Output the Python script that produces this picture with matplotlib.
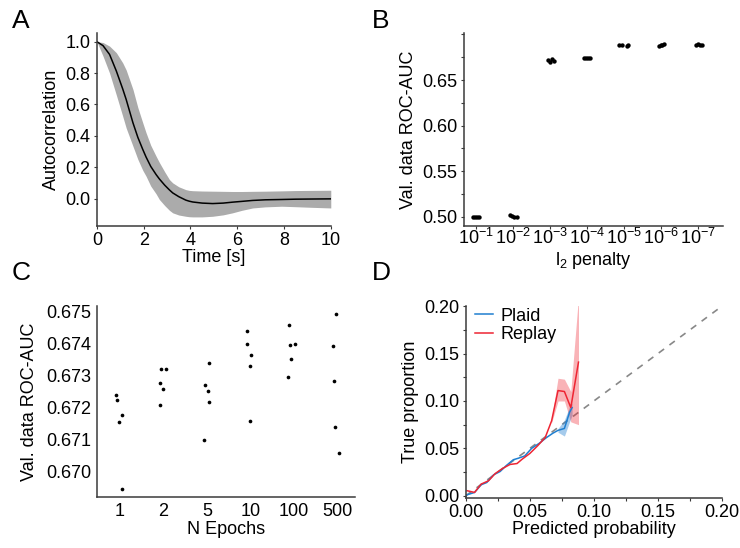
import matplotlib
matplotlib.use("Agg")
import matplotlib.pyplot as plt
import numpy as np
from matplotlib.ticker import MultipleLocator

plt.rcParams['font.family'] = ['Liberation Sans', 'DejaVu Sans']
plt.rcParams['font.size'] = 13
plt.rcParams['mathtext.fontset'] = 'custom'
plt.rcParams['mathtext.rm'] = 'Liberation Sans'
plt.rcParams['mathtext.it'] = 'Liberation Sans'
plt.rcParams['mathtext.default'] = 'regular'

# --- A: autocorrelation (mean and band) ---
t_acf = [0, 0.26, 0.54, 0.83, 1.1, 1.25, 1.54, 1.75, 1.96, 2.1, 2.3, 2.53, 2.67, 2.9, 3.1,
         3.24, 3.5, 3.8, 3.95, 4.1, 4.5, 4.95, 5.4, 5.8, 6.2, 6.66, 7.2, 7.9, 8.5, 9.2, 10]
acf_mean = [1.0, 0.975, 0.919, 0.813, 0.70, 0.632, 0.483, 0.39, 0.313, 0.265, 0.205, 0.153,
            0.125, 0.085, 0.055, 0.036, 0.012, -0.010, -0.017, -0.022, -0.029, -0.032, -0.029,
            -0.023, -0.018, -0.012, -0.008, -0.006, -0.004, -0.003, -0.002]
acf_upper = [1.0, 0.995, 0.972, 0.93, 0.866, 0.82, 0.696, 0.58, 0.483, 0.42, 0.34, 0.27,
             0.23, 0.17, 0.121, 0.10, 0.075, 0.057, 0.052, 0.050, 0.048, 0.047, 0.046,
             0.045, 0.045, 0.046, 0.047, 0.049, 0.051, 0.052, 0.053]
acf_lower = [1.0, 0.9085, 0.80, 0.66, 0.526, 0.45, 0.334, 0.25, 0.18, 0.143, 0.08, 0.03,
             -0.006, -0.045, -0.075, -0.091, -0.105, -0.113, -0.116, -0.117, -0.117, -0.113,
             -0.104, -0.091, -0.075, -0.06, -0.053, -0.049, -0.052, -0.056, -0.06]

# --- B: l2 penalty sweep ---
penalty_labels = ['$10^{-1}$', '$10^{-2}$', '$10^{-3}$', '$10^{-4}$', '$10^{-5}$', '$10^{-6}$', '$10^{-7}$']
penalty_auc = [
    [0.500, 0.500, 0.500, 0.500],
    [0.5025, 0.501, 0.500, 0.500],
    [0.672, 0.670, 0.673, 0.671],
    [0.6745, 0.674, 0.674, 0.674],
    [0.6885, 0.6885, 0.6875, 0.688],
    [0.6875, 0.688, 0.6885, 0.689],
    [0.6885, 0.689, 0.688, 0.688],
]
penalty_jitter = [
    [-0.08, -0.03, 0.02, 0.08],
    [-0.08, -0.02, 0.04, 0.10],
    [-0.05, 0.0, 0.05, 0.10],
    [-0.08, -0.02, 0.03, 0.08],
    [-0.12, -0.06, 0.08, 0.12],
    [-0.06, 0.0, 0.04, 0.08],
    [-0.06, 0.0, 0.06, 0.12],
]

# --- C: number of epochs ---
epoch_labels = ['1', '2', '5', '10', '100', '500']
epoch_auc = [
    [0.67238, 0.67223, 0.67154, 0.67175, 0.66945],
    [0.67321, 0.67321, 0.67277, 0.67257, 0.67207],
    [0.67271, 0.67250, 0.67216, 0.67338, 0.67097],
    [0.67438, 0.67398, 0.67363, 0.67329, 0.67156],
    [0.67457, 0.67396, 0.67399, 0.67351, 0.67294],
    [0.67490, 0.67390, 0.67281, 0.67139, 0.67059],
]
epoch_jitter = [
    [-0.10, -0.08, -0.02, 0.05, 0.05],
    [-0.05, 0.05, -0.09, 0.0, -0.09],
    [-0.05, 0.03, 0.05, 0.05, -0.06],
    [-0.09, -0.08, 0.02, 0.0, 0.0],
    [-0.12, -0.08, 0.02, -0.06, -0.14],
    [-0.04, -0.10, -0.08, -0.05, 0.03],
]

# --- D: calibration ---
plaid_x = [0.001, 0.0068, 0.012, 0.0164, 0.0216, 0.0268, 0.0314, 0.0371, 0.041, 0.046,
           0.0514, 0.0574, 0.063, 0.068, 0.072, 0.077, 0.081, 0.083]
plaid_y = [0.001, 0.0035, 0.0116, 0.014, 0.022, 0.0256, 0.0316, 0.038, 0.0396, 0.042,
           0.050, 0.0554, 0.0614, 0.066, 0.069, 0.071, 0.088, 0.093]
plaid_band_x = [0.072, 0.077, 0.081, 0.083]
plaid_lo = [0.067, 0.063, 0.078, 0.085]
plaid_hi = [0.071, 0.080, 0.094, 0.098]

replay_x = [0.001, 0.0068, 0.012, 0.0177, 0.023, 0.029, 0.0345, 0.040, 0.044, 0.050,
            0.056, 0.062, 0.067, 0.072, 0.077, 0.082, 0.088]
replay_y = [0.0053, 0.0035, 0.0123, 0.0158, 0.0235, 0.029, 0.033, 0.034, 0.0386, 0.0446,
            0.0526, 0.0614, 0.079, 0.111, 0.110, 0.093, 0.141]
replay_band_x = [0.067, 0.072, 0.077, 0.082, 0.088]
replay_lo = [0.077, 0.100, 0.100, 0.078, 0.075]
replay_hi = [0.081, 0.124, 0.123, 0.110, 0.210]

BLUE = '#1f7fd0'
RED = '#ee2533'
SPINE = '#3a3a3a'


def style(ax):
    for s in ['top', 'right']:
        ax.spines[s].set_visible(False)
    for s in ['left', 'bottom']:
        ax.spines[s].set_color(SPINE)
        ax.spines[s].set_linewidth(1.1)
    ax.tick_params(which='both', length=2.5, width=0.8, color=SPINE, pad=2, labelsize=13)


fig = plt.figure(figsize=(7.4, 5.48), dpi=100)

# Panel A
axA = fig.add_axes([0.131, 0.5876, 0.316, 0.352])
axA.fill_between(t_acf, acf_lower, acf_upper, color='#ababab', linewidth=0)
axA.plot(t_acf, acf_mean, color='black', linewidth=1.1)
axA.set_xlim(0, 10)
axA.set_ylim(-0.175, 1.055)
axA.set_xticks([0, 2, 4, 6, 8, 10])
axA.set_yticks([0.0, 0.2, 0.4, 0.6, 0.8, 1.0])
axA.set_xlabel('Time [s]', labelpad=0)
axA.set_ylabel('Autocorrelation', labelpad=4)
style(axA)

# Panel B
axB = fig.add_axes([0.627, 0.5876, 0.35, 0.352])
for i, vals in enumerate(penalty_auc):
    xs = [i + j for j in penalty_jitter[i]]
    axB.scatter(xs, vals, s=10, color='black', linewidths=0, zorder=3)
axB.set_xlim(-0.32, 6.68)
axB.set_ylim(0.490, 0.7015)
axB.set_xticks(range(len(penalty_labels)))
axB.set_xticklabels(penalty_labels)
axB.set_yticks([0.50, 0.55, 0.60, 0.65])
axB.yaxis.set_minor_locator(MultipleLocator(0.025))
axB.set_xlabel('l$_2$ penalty', labelpad=1)
axB.set_ylabel('Val. data ROC-AUC', labelpad=4)
style(axB)
axB.tick_params(axis='x', pad=-1)

# Panel C
axC = fig.add_axes([0.131, 0.093, 0.349, 0.349])
for i, vals in enumerate(epoch_auc):
    xs = [i + j for j in epoch_jitter[i]]
    axC.scatter(xs, vals, s=7, color='black', linewidths=0, zorder=3)
axC.set_xlim(-0.53, 5.41)
axC.set_ylim(0.6692, 0.67517)
axC.set_xticks(range(len(epoch_labels)))
axC.set_xticklabels(epoch_labels)
axC.set_yticks([0.670, 0.671, 0.672, 0.673, 0.674, 0.675])
axC.set_xlabel('N Epochs', labelpad=1)
axC.set_ylabel('Val. data ROC-AUC', labelpad=6)
style(axC)
axC.tick_params(which='both', length=0, pad=4)

# Panel D
axD = fig.add_axes([0.6295, 0.0912, 0.346, 0.350])
axD.plot([0, 0.2], [0, 0.2], linestyle=(0, (4, 4)), color='#888888', linewidth=1.2, zorder=1)
axD.fill_between(plaid_band_x, plaid_lo, plaid_hi, color=BLUE, alpha=0.4, linewidth=0)
axD.fill_between(replay_band_x, replay_lo, replay_hi, color=RED, alpha=0.35, linewidth=0)
axD.plot(plaid_x, plaid_y, color=BLUE, linewidth=1.1, label='Plaid')
axD.plot(replay_x, replay_y, color=RED, linewidth=1.1, label='Replay')
axD.set_xlim(0, 0.2)
axD.set_ylim(-0.0024, 0.2)
axD.set_xticks([0.0, 0.05, 0.10, 0.15, 0.20])
axD.set_yticks([0.0, 0.05, 0.10, 0.15, 0.20])
axD.xaxis.set_minor_locator(MultipleLocator(0.025))
axD.yaxis.set_minor_locator(MultipleLocator(0.025))
axD.set_xlabel('Predicted probability', labelpad=0)
axD.set_ylabel('True proportion', labelpad=4)
style(axD)
axD.legend(loc='upper left', frameon=False, handlelength=1.0, handletextpad=0.4,
           borderaxespad=0.1, labelspacing=0.1, fontsize=13, bbox_to_anchor=(0.0, 1.04))

for letter, (x, y) in zip('ABCD', [(0.016, 0.962), (0.502, 0.962), (0.016, 0.502), (0.502, 0.502)]):
    fig.text(x, y, letter, fontsize=19, va='center', ha='left')

fig.savefig('out.png', dpi=100)
